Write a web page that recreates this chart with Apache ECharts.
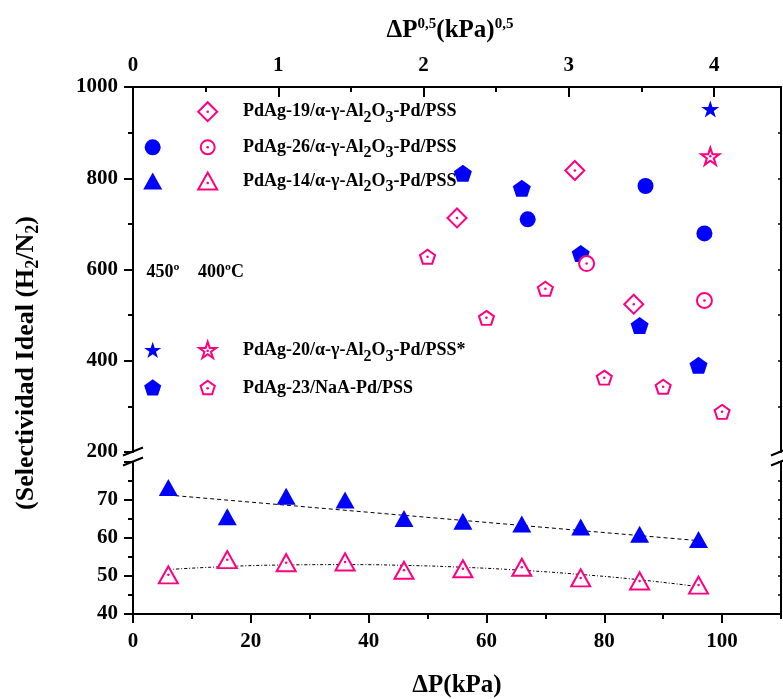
<!DOCTYPE html>
<html><head><meta charset="utf-8">
<script src="https://cdn.jsdelivr.net/npm/echarts@6/dist/echarts.min.js"></script>
<style>html,body{margin:0;padding:0;background:#fff}#c{width:783px;height:699px}</style>
</head><body><div id="c"></div>
<script>
// ---------- DATA ----------
// lower panel (ΔP, kPa)
const dpTri = [6, 16, 26, 36, 46, 56, 66, 76, 86, 96];
const tri450 = [73.3, 65.6, 71.0, 70.0, 65.1, 64.4, 63.7, 62.9, 61.0, 59.6];
const tri400 = [50.3, 54.3, 53.5, 53.7, 51.5, 51.9, 52.3, 49.5, 48.7, 47.6];
// fitted trend lines
const fit450X = [6, 96];
const fit450Y = [71.3, 59.3];
const fit400X = [6, 16, 26, 36, 46, 56, 66, 76, 86, 96];
const fit400Y = [51.7, 52.5, 52.9, 53.0, 52.8, 52.3, 51.5, 50.4, 49.0, 47.2];
// upper panel
const pent450X = [56, 66, 76, 86, 96];
const pent450Y = [811, 778, 635, 477, 390];
const circ450X = [67, 87, 97];
const circ450Y = [710, 783, 679];
const star450X = [98];
const star450Y = [952];
const diam400X = [55, 75, 85];
const diam400Y = [713, 817, 524];
const circ400X = [77, 97];
const circ400Y = [613, 532];
const star400X = [98];
const star400Y = [848];
const pent400X = [50, 60, 70, 80, 90, 100];
const pent400Y = [628, 494, 558, 363, 343, 288];
// labels
const legendNames = [
  ['PdAg-19/α-γ-Al', '2', 'O', '3', '-Pd/PSS'],
  ['PdAg-26/α-γ-Al', '2', 'O', '3', '-Pd/PSS'],
  ['PdAg-14/α-γ-Al', '2', 'O', '3', '-Pd/PSS'],
  ['PdAg-20/α-γ-Al', '2', 'O', '3', '-Pd/PSS*'],
  ['PdAg-23/NaA-Pd/PSS']
];
const tempLabels = ['450º', '400ºC'];
const xTitle = 'ΔP(kPa)';
const yTitle = ['(Selectividad Ideal (H', '2', '/N', '2', ')'];
const topTitle = ['ΔP', '0,5', '(kPa)', '0,5'];

// ---------- STYLE ----------
const BLUE = '#0000FF', PINK = '#FF0080', F = 'Liberation Serif';
const STAR = 'path://M0,-10L2.245,-3.09L9.511,-3.09L3.633,1.18L5.878,8.09L0,3.82L-5.878,8.09L-3.633,1.18L-9.511,-3.09L-2.245,-3.09Z';
const PENT = 'path://M0,-10L9.511,-3.09L5.878,8.09L-5.878,8.09L-9.511,-3.09Z';
const zip = (a, b) => a.map((v, i) => [v, b[i]]);

function filled(xs, ys, symbol, size, xi, yi) {
  return {type: 'scatter', xAxisIndex: xi, yAxisIndex: yi, data: zip(xs, ys), symbol, symbolSize: size,
    itemStyle: {color: BLUE, opacity: 1}, z: 5, silent: true};
}
function open(xs, ys, symbol, size, xi, yi) {
  return [
    {type: 'scatter', xAxisIndex: xi, yAxisIndex: yi, data: zip(xs, ys), symbol, symbolSize: size,
      itemStyle: {color: '#fff', borderColor: PINK, borderWidth: 2, opacity: 1}, z: 5, silent: true},
    {type: 'scatter', xAxisIndex: xi, yAxisIndex: yi, data: zip(xs, ys), symbol: 'circle', symbolSize: 2.5,
      itemStyle: {color: PINK, opacity: 1}, z: 6, silent: true}
  ];
}

const plain = v => String(v);
const lblStyle = {fontFamily: F, fontWeight: 'bold', fontSize: 21, color: '#000', formatter: plain};
const axLine = {show: true, onZero: false, lineStyle: {color: '#000', width: 2}};
const noLine = {show: false, onZero: false};

const gUp = {left: 133, right: 2, top: 87, height: 365};
const gLo = {left: 133, right: 2, top: 462, height: 152};

const xAxis = [
  // 0: bottom ΔP axis (lower grid)
  {gridIndex: 1, type: 'value', position: 'bottom', min: 0, max: 110, interval: 20,
    axisLine: axLine, axisTick: {length: 9, lineStyle: {width: 2, color: '#000'}},
    axisLabel: Object.assign({margin: 17, showMaxLabel: false}, lblStyle), splitLine: {show: false}},
  // 1: top ΔP^0.5 axis (upper grid)
  {gridIndex: 0, type: 'value', position: 'top', min: 0, max: 4.46, interval: 1,
    axisLine: axLine, axisTick: {inside: true, length: 10, lineStyle: {width: 2, color: '#000'}},
    axisLabel: Object.assign({margin: 11, showMaxLabel: false}, lblStyle), splitLine: {show: false}},
  // 2: hidden data axis for upper grid (kPa)
  {gridIndex: 0, type: 'value', position: 'bottom', min: 0, max: 110, show: false},
  // 3: bottom minor ticks (overlay grid 3)
  {gridIndex: 3, type: 'value', position: 'bottom', min: 0, max: 110, interval: 10,
    axisLine: noLine, axisTick: {length: 5, lineStyle: {width: 2, color: '#000'}},
    axisLabel: {show: false}, splitLine: {show: false}},
  // 4: top minor ticks (overlay grid 2)
  {gridIndex: 2, type: 'value', position: 'top', min: 0, max: 4.46, interval: 0.5,
    axisLine: noLine, axisTick: {inside: true, length: 5, lineStyle: {width: 2, color: '#000'}},
    axisLabel: {show: false}, splitLine: {show: false}}
];
const yAxis = [
  // 0 upper left
  {gridIndex: 0, type: 'value', position: 'left', min: 200, max: 1000, interval: 200,
    axisLine: axLine, axisTick: {length: 9, lineStyle: {width: 2, color: '#000'}},
    minorTick: {show: true, splitNumber: 2, length: 5, lineStyle: {width: 2, color: '#000'}},
    axisLabel: Object.assign({margin: 15}, lblStyle), splitLine: {show: false}, minorSplitLine: {show: false}},
  // 1 upper right
  {gridIndex: 0, type: 'value', position: 'right', min: 200, max: 1000, interval: 100,
    axisLine: axLine, axisTick: {inside: true, length: 3, lineStyle: {width: 1.5, color: '#000'}},
    axisLabel: {show: false}, splitLine: {show: false}},
  // 2 lower left
  {gridIndex: 1, type: 'value', position: 'left', min: 40, max: 80, interval: 10,
    axisLine: axLine, axisTick: {length: 9, lineStyle: {width: 2, color: '#000'}},
    minorTick: {show: true, splitNumber: 2, length: 5, lineStyle: {width: 2, color: '#000'}},
    axisLabel: Object.assign({margin: 15, showMaxLabel: false}, lblStyle), splitLine: {show: false}, minorSplitLine: {show: false}},
  // 3 lower right
  {gridIndex: 1, type: 'value', position: 'right', min: 40, max: 80, interval: 5,
    axisLine: axLine, axisTick: {inside: true, length: 3, lineStyle: {width: 1.5, color: '#000'}},
    axisLabel: {show: false}, splitLine: {show: false}},
  // 4,5 hidden for overlay grids
  {gridIndex: 2, type: 'value', min: 0, max: 1, show: false},
  {gridIndex: 3, type: 'value', min: 0, max: 1, show: false}
];

const series = [
  {type: 'line', xAxisIndex: 0, yAxisIndex: 2, data: zip(fit450X, fit450Y), symbol: 'none',
    lineStyle: {color: '#000', width: 1, type: [4, 3]}, z: 3, silent: true},
  {type: 'line', xAxisIndex: 0, yAxisIndex: 2, data: zip(fit400X, fit400Y), symbol: 'none', smooth: true,
    lineStyle: {color: '#000', width: 1, type: [3, 2, 1, 2]}, z: 3, silent: true},
  filled(dpTri, tri450, 'triangle', [19, 17], 0, 2),
  ...open(dpTri, tri400, 'triangle', [19, 17], 0, 2),
  filled(pent450X, pent450Y, PENT, [18, 17], 2, 0),
  filled(circ450X, circ450Y, 'circle', 16, 2, 0),
  filled(star450X, star450Y, STAR, [18, 17], 2, 0),
  ...open(diam400X, diam400Y, 'diamond', [19, 19], 2, 0),
  ...open(circ400X, circ400Y, 'circle', 15, 2, 0),
  ...open(star400X, star400Y, STAR, [18, 17], 2, 0),
  ...open(pent400X, pent400Y, PENT, [15, 14], 2, 0)
];

// ---------- legend / annotation graphics ----------
function polyPts(cx, cy, pts, s) { return pts.map(p => [cx + p[0] * s, cy + p[1] * s]); }
const PENT_P = [[0,-10],[9.511,-3.09],[5.878,8.09],[-5.878,8.09],[-9.511,-3.09]];
const STAR_P = [[0,-10],[2.245,-3.09],[9.511,-3.09],[3.633,1.18],[5.878,8.09],[0,3.82],[-5.878,8.09],[-3.633,1.18],[-9.511,-3.09],[-2.245,-3.09]];
const TRI_P = [[0,-8.5],[9.5,8.5],[-9.5,8.5]];
const DIAM_P = [[0,-9.5],[9.5,0],[0,9.5],[-9.5,0]];
const blueFill = {fill: BLUE};
const pinkOpen = {fill: '#fff', stroke: PINK, lineWidth: 2};
const c1 = 152.7, c2 = 207.7, tx = 243;
const rows = [111.7, 147.3, 181, 350.7, 388.3];
const dot = (x, y) => ({type: 'circle', shape: {cx: x, cy: y, r: 1.3}, style: {fill: PINK}, z: 101});
const g = [];
g.push({type: 'polygon', shape: {points: polyPts(c2, rows[0], DIAM_P, 1)}, style: pinkOpen, z: 100}, dot(c2, rows[0]));
g.push({type: 'circle', shape: {cx: c1, cy: rows[1], r: 8}, style: blueFill, z: 100});
g.push({type: 'circle', shape: {cx: c2, cy: rows[1], r: 7}, style: pinkOpen, z: 100}, dot(c2, rows[1]));
g.push({type: 'polygon', shape: {points: polyPts(c1, rows[2], TRI_P, 1)}, style: blueFill, z: 100});
g.push({type: 'polygon', shape: {points: polyPts(c2, rows[2], TRI_P, 1)}, style: pinkOpen, z: 100}, dot(c2, rows[2] + 2));
g.push({type: 'polygon', shape: {points: polyPts(c1, rows[3], STAR_P, 0.9)}, style: blueFill, z: 100});
g.push({type: 'polygon', shape: {points: polyPts(c2, rows[3], STAR_P, 0.9)}, style: pinkOpen, z: 100}, dot(c2, rows[3]));
g.push({type: 'polygon', shape: {points: polyPts(c1, rows[4], PENT_P, 0.9)}, style: blueFill, z: 100});
g.push({type: 'polygon', shape: {points: polyPts(c2, rows[4], PENT_P, 0.75)}, style: pinkOpen, z: 100}, dot(c2, rows[4]));

const richSub = {
  b: {fontFamily: F, fontWeight: 'bold', fontSize: 18, fill: '#000'},
  s: {fontFamily: F, fontWeight: 'bold', fontSize: 16, fill: '#000', padding: [12, 0, 0, 0]}
};
legendNames.forEach((parts, i) => {
  const text = parts.map((p, k) => (k % 2 === 1 ? '{s|' + p + '}' : '{b|' + p + '}')).join('');
  g.push({type: 'text', x: tx, y: rows[i], z: 100,
    style: {text, rich: richSub, verticalAlign: 'middle', align: 'left', fontFamily: F, fontWeight: 'bold', fontSize: 18, fill: '#000'}});
});
g.push({type: 'text', x: 146.5, y: 272.3, z: 100, style: {text: tempLabels[0], verticalAlign: 'middle', fontFamily: F, fontWeight: 'bold', fontSize: 18, fill: '#000'}});
g.push({type: 'text', x: 198, y: 272.3, z: 100, style: {text: tempLabels[1], verticalAlign: 'middle', fontFamily: F, fontWeight: 'bold', fontSize: 18, fill: '#000'}});

// axis titles
g.push({type: 'text', x: 457, y: 686, z: 100, style: {text: xTitle, align: 'center', verticalAlign: 'middle', fontFamily: F, fontWeight: 'bold', fontSize: 25, fill: '#000'}});
g.push({type: 'text', x: 450, y: 31, z: 100, style: {
  text: topTitle.map((p, k) => (k % 2 === 1 ? '{p|' + p + '}' : '{b|' + p + '}')).join(''),
  align: 'center', verticalAlign: 'middle',
  rich: {b: {fontFamily: F, fontWeight: 'bold', fontSize: 25, fill: '#000'},
         p: {fontFamily: F, fontWeight: 'bold', fontSize: 15, fill: '#000', padding: [0, 0, 14, 0]}}}});
g.push({type: 'text', x: 26, y: 363, rotation: Math.PI / 2, z: 100, style: {
  text: yTitle.map((p, k) => (k % 2 === 1 ? '{s|' + p + '}' : '{b|' + p + '}')).join(''),
  align: 'center', verticalAlign: 'middle',
  rich: {b: {fontFamily: F, fontWeight: 'bold', fontSize: 26, fill: '#000'},
         s: {fontFamily: F, fontWeight: 'bold', fontSize: 18, fill: '#000', padding: [14, 0, 0, 0]}}}});

// axis break marks
[133, 781].forEach(x => {
  g.push({type: 'line', shape: {x1: x - 10, y1: 455.5, x2: x + 10, y2: 447.5}, style: {stroke: '#000', lineWidth: 2}, z: 100});
  g.push({type: 'line', shape: {x1: x - 10, y1: 465.5, x2: x + 10, y2: 457.5}, style: {stroke: '#000', lineWidth: 2}, z: 100});
});

const chart = echarts.init(document.getElementById('c'), null, {renderer: 'canvas'});
chart.setOption({
  backgroundColor: '#fff',
  animation: false,
  grid: [gUp, gLo, Object.assign({}, gUp), Object.assign({}, gLo)],
  xAxis, yAxis, series,
  graphic: g
});
</script></body></html>
